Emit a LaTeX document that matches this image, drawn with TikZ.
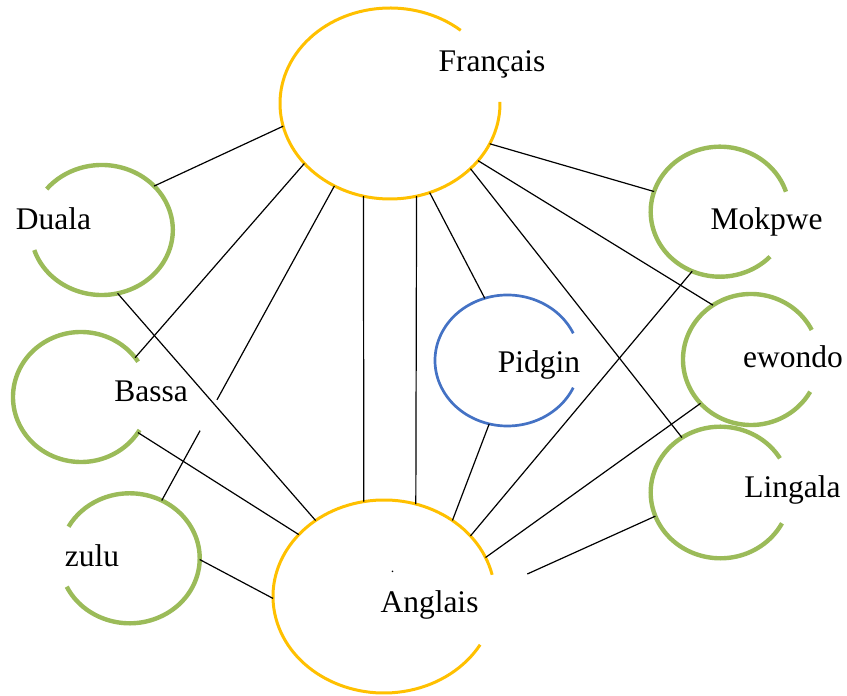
\documentclass[tikz,border=0pt]{standalone}
\usepackage{fontspec}
\setmainfont{Liberation Serif}
\usetikzlibrary{shapes.geometric,calc}
\definecolor{wgold}{HTML}{FFC000}
\definecolor{wgreen}{HTML}{9BBB59}
\definecolor{wblue}{HTML}{4472C4}
\tikzset{
  holder/.style={ellipse,inner sep=0pt,outer sep=0pt},
  goldring/.style={draw=wgold,line width=3pt},
  greenring/.style={draw=wgreen,line width=4.4pt},
  bluering/.style={draw=wblue,line width=2.7pt},
  lbl/.style={anchor=base,inner sep=0pt,font=\fontsize{31.5}{36}\selectfont},
  link/.style={draw=black,line width=1.2pt}
}
\begin{document}
\begin{tikzpicture}[x=1pt,y=1pt]
\useasboundingbox (0,0) rectangle (847,696);
% shape holders
\node[holder,minimum width=220pt,minimum height=191pt] (fr) at (390,592.5) {};
\node[holder,minimum width=222pt,minimum height=193pt] (an) at (384,99.5) {};
\node[holder,minimum width=144.8pt,minimum height=131pt] (pi) at (507.4,335.5) {};
\node[holder,minimum width=142pt,minimum height=130pt] (du) at (101.8,466) {};
\node[holder,minimum width=136pt,minimum height=130pt] (ba) at (81,299) {};
\node[holder,minimum width=140pt,minimum height=130pt] (zu) at (129.7,137.7) {};
\node[holder,minimum width=138.6pt,minimum height=130pt] (mo) at (720,484.3) {};
\node[holder,minimum width=136pt,minimum height=131pt] (ew) at (751,336.5) {};
\node[holder,minimum width=139.4pt,minimum height=131.6pt] (li) at (720.4,203.5) {};
% rings with gaps
\draw[goldring] (fr.center) ++(50:110pt and 95.5pt) arc[start angle=50,end angle=361,x radius=110pt,y radius=95.5pt];
\draw[goldring] (an.center) ++(13:111pt and 96.5pt) arc[start angle=13,end angle=330,x radius=111pt,y radius=96.5pt];
\draw[bluering] (pi.center) ++(24.5:72.4pt and 65.5pt) arc[start angle=24.5,end angle=335.5,x radius=72.4pt,y radius=65.5pt];
\draw[greenring] (du.center) ++(198:71pt and 65pt) arc[start angle=198,end angle=500.9,x radius=71pt,y radius=65pt];
\draw[greenring] (ba.center) ++(32.9:68pt and 65pt) arc[start angle=32.9,end angle=329.5,x radius=68pt,y radius=65pt];
\draw[greenring] (zu.center) ++(205.9:70pt and 65pt) arc[start angle=205.9,end angle=510.9,x radius=70pt,y radius=65pt];
\draw[greenring] (mo.center) ++(17.9:69.3pt and 65pt) arc[start angle=17.9,end angle=316.2,x radius=69.3pt,y radius=65pt];
\draw[greenring] (ew.center) ++(26.8:68pt and 65.5pt) arc[start angle=26.8,end angle=330.5,x radius=68pt,y radius=65.5pt];
\draw[greenring] (li.center) ++(31.3:69.7pt and 65.8pt) arc[start angle=31.3,end angle=332.1,x radius=69.7pt,y radius=65.8pt];
% connectors from Français
\draw[link] (fr.192.7) -- (du.40.5);
\draw[link] (fr.215) -- (ba.36.9);
\draw[link] (fr.236.9) -- ($(fr.236.9)!0.68!(zu.61.5)$);
\draw[link] ($(fr.236.9)!0.778!(zu.61.5)$) -- (zu.61.5);
\draw[link] (fr.254.4) -- (an.102.8);
\draw[link] (fr.286.1) -- (an.71.2);
\draw[link] (fr.294.4) -- (pi.110.2);
\draw[link] (fr.338) -- (mo.163.7);
\draw[link] (fr.327.3) -- (ew.125.4);
\draw[link] (fr.321.1) -- (li.125.9);
% connectors to Anglais
\draw[link] (du.284.5) -- (an.132.1);
\draw[link] (ba.328.2) -- (an.144.8);
\draw[link] (zu.359.2) -- (an.181.4);
\draw[link] (pi.254.6) -- (an.48.8);
\draw[link] (mo.245.4) -- (an.35.0);
\draw[link] (ew.221.9) -- (an.21.0);
\coordinate (liend) at (527.3,122);
\draw[link] (li.200.6) -- (liend);
% labels
\node[lbl] (tfr) at (492,624.3) {Français};
\node[lbl] (tan) at (429.5,83.3) {Anglais};
\node[anchor=base,inner sep=0pt,font=\fontsize{14}{16}\selectfont] (tdot) at (392.7,123) {.};
\node[lbl] (tpi) at (539,323) {Pidgin};
\node[lbl] (tdu) at (53.5,466) {Duala};
\node[lbl] (tba) at (151,294.3) {Bassa};
\node[lbl] (tzu) at (92,129) {zulu};
\node[lbl] (tmo) at (766.5,466) {Mokpwe};
\node[lbl] (tew) at (793,328) {ewondo};
\node[lbl] (tli) at (792.5,198) {Lingala};
\end{tikzpicture}
\end{document}
